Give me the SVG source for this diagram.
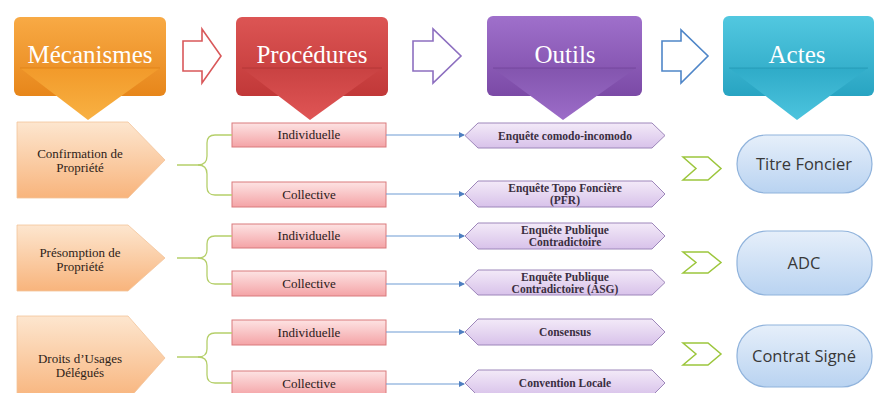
<svg xmlns="http://www.w3.org/2000/svg" width="875" height="393" viewBox="0 0 875 393">
  <defs>
    <linearGradient id="gOrange" x1="0" y1="0" x2="0" y2="1">
      <stop offset="0" stop-color="#f8aa45"/>
      <stop offset="1" stop-color="#e7861a"/>
    </linearGradient>
    <linearGradient id="gOrangeTri" x1="0" y1="0" x2="0" y2="1">
      <stop offset="0" stop-color="#f29a2a"/>
      <stop offset="1" stop-color="#f8b143"/>
    </linearGradient>
    <linearGradient id="gRed" x1="0" y1="0" x2="0" y2="1">
      <stop offset="0" stop-color="#dc5554"/>
      <stop offset="1" stop-color="#c13838"/>
    </linearGradient>
    <linearGradient id="gRedTri" x1="0" y1="0" x2="0" y2="1">
      <stop offset="0" stop-color="#c94242"/>
      <stop offset="1" stop-color="#e05555"/>
    </linearGradient>
    <linearGradient id="gPurple" x1="0" y1="0" x2="0" y2="1">
      <stop offset="0" stop-color="#9f70cb"/>
      <stop offset="1" stop-color="#7b4aa6"/>
    </linearGradient>
    <linearGradient id="gPurpleTri" x1="0" y1="0" x2="0" y2="1">
      <stop offset="0" stop-color="#8355ae"/>
      <stop offset="1" stop-color="#9c6cc8"/>
    </linearGradient>
    <linearGradient id="gCyan" x1="0" y1="0" x2="0" y2="1">
      <stop offset="0" stop-color="#52c8e0"/>
      <stop offset="1" stop-color="#28a4c2"/>
    </linearGradient>
    <linearGradient id="gCyanTri" x1="0" y1="0" x2="0" y2="1">
      <stop offset="0" stop-color="#2fabc8"/>
      <stop offset="1" stop-color="#4cc4de"/>
    </linearGradient>
    <linearGradient id="gPeach" x1="0" y1="0" x2="0" y2="1">
      <stop offset="0" stop-color="#fde6cf"/>
      <stop offset="1" stop-color="#f8b47c"/>
    </linearGradient>
    <linearGradient id="gPink" x1="0" y1="0" x2="0" y2="1">
      <stop offset="0" stop-color="#fde3e3"/>
      <stop offset="1" stop-color="#f4a3a6"/>
    </linearGradient>
    <linearGradient id="gLilac" x1="0" y1="0" x2="0" y2="1">
      <stop offset="0" stop-color="#f3eaf8"/>
      <stop offset="1" stop-color="#d8c2ea"/>
    </linearGradient>
    <linearGradient id="gSky" x1="0" y1="0" x2="0" y2="1">
      <stop offset="0" stop-color="#e6effa"/>
      <stop offset="1" stop-color="#b9d3f1"/>
    </linearGradient>
    <marker id="dot" viewBox="0 0 6 6" refX="5" refY="3" markerWidth="5" markerHeight="5" orient="auto">
      <path d="M0,0 L6,3 L0,6 Z" fill="#4f7fc0"/>
    </marker>
    <style>
      .hdr { font-family: "Liberation Serif", serif; font-size: 25px; fill: #ffffff; text-anchor: middle; }
      .band { fill: none; stroke-width: 1; stroke-opacity: 0.6; }
      .mech { fill: url(#gPeach); stroke: #f2c49a; stroke-width: 0.8; }
      .mtxt { font-family: "Liberation Serif", serif; font-size: 13px; fill: #2e2218; text-anchor: middle; }
      .proc { fill: url(#gPink); stroke: #d97a7d; stroke-width: 1; }
      .ptxt { font-family: "Liberation Serif", serif; font-size: 13px; fill: #2a1a1a; text-anchor: middle; }
      .tool { fill: url(#gLilac); stroke: #9d86ba; stroke-width: 1; }
      .ttxt { font-family: "Liberation Serif", serif; font-size: 11.5px; font-weight: bold; fill: #3a2e40; text-anchor: middle; }
      .act { fill: url(#gSky); stroke: #90b3dc; stroke-width: 1.2; }
      .atxt { font-family: "Open Sans", "Liberation Sans", sans-serif; font-size: 16.5px; fill: #383838; text-anchor: middle; }
      .brace { fill: none; stroke: #b5cf6a; stroke-width: 1.3; }
      .link { fill: none; stroke: #6f9bd3; stroke-width: 1.2; }
      .chev { fill: #ffffff; stroke: #9cc63c; stroke-width: 1.5; stroke-linejoin: miter; }
      .hollow { fill: #ffffff; stroke-width: 1.6; stroke-linejoin: miter; }
    </style>
  </defs>

  <rect width="875" height="393" fill="#ffffff"/>

  <!-- column headers -->
  <g id="hdr-mecanismes">
    <rect x="14" y="17" width="152" height="79" rx="6" fill="url(#gOrange)"/>
    <polygon points="20,68 160,68 88,120" fill="url(#gOrangeTri)"/>
    <line x1="20" y1="68" x2="160" y2="68" class="band" stroke="#d9780f"/>
    <text x="90" y="63" class="hdr">Mécanismes</text>
  </g>
  <g id="hdr-procedures">
    <rect x="236" y="17" width="152" height="79" rx="6" fill="url(#gRed)"/>
    <polygon points="242,68 382,68 310,120" fill="url(#gRedTri)"/>
    <line x1="242" y1="68" x2="382" y2="68" class="band" stroke="#a92e2e"/>
    <text x="312" y="63" class="hdr">Procédures</text>
  </g>
  <g id="hdr-outils">
    <rect x="487" y="16" width="155" height="80" rx="6" fill="url(#gPurple)"/>
    <polygon points="493,68 636,68 563,120" fill="url(#gPurpleTri)"/>
    <line x1="493" y1="68" x2="636" y2="68" class="band" stroke="#6a3e92"/>
    <text x="565" y="63" class="hdr">Outils</text>
  </g>
  <g id="hdr-actes">
    <rect x="723" y="16" width="151" height="80" rx="6" fill="url(#gCyan)"/>
    <polygon points="729,68 868,68 797,120" fill="url(#gCyanTri)"/>
    <line x1="729" y1="68" x2="868" y2="68" class="band" stroke="#1f8fac"/>
    <text x="797" y="63" class="hdr">Actes</text>
  </g>

  <!-- hollow arrows between headers -->
  <g id="flow-arrows">
    <polygon class="hollow" stroke="#d9585a" points="183,41 202,41 202,29 221,56 202,83 202,71 183,71"/>
    <polygon class="hollow" stroke="#8d6fc0" points="413,41 433,41 433,29 461,56 433,83 433,71 413,71"/>
    <polygon class="hollow" stroke="#4f86c8" points="662,41 681,41 681,30 708,56 681,83 681,71 662,71"/>
  </g>

  <!-- mechanisms -->
  <g id="mech-confirmation">
    <polygon class="mech" points="17,122 128,122 165,160 128,198 17,198"/>
    <text x="80" y="158" class="mtxt">Confirmation  de</text>
    <text x="80" y="172" class="mtxt">Propriété</text>
  </g>
  <g id="mech-presomption">
    <polygon class="mech" points="17,225 128,225 165,258 128,291 17,291"/>
    <text x="80" y="257" class="mtxt">Présomption  de</text>
    <text x="80" y="271" class="mtxt">Propriété</text>
  </g>
  <g id="mech-droits">
    <polygon class="mech" points="17,316 128,316 165,358 128,400 17,400"/>
    <text x="80" y="363" class="mtxt">Droits  d’Usages</text>
    <text x="80" y="377" class="mtxt">Délégués</text>
  </g>

  <!-- procedures -->
  <g id="proc-ind-1"><rect class="proc" x="232" y="123" width="154" height="24"/><text x="309" y="139" class="ptxt">Individuelle</text></g>
  <g id="proc-col-1"><rect class="proc" x="232" y="182" width="154" height="25"/><text x="309" y="199" class="ptxt">Collective</text></g>
  <g id="proc-ind-2"><rect class="proc" x="232" y="224" width="154" height="24"/><text x="309" y="240" class="ptxt">Individuelle</text></g>
  <g id="proc-col-2"><rect class="proc" x="232" y="271" width="154" height="25"/><text x="309" y="288" class="ptxt">Collective</text></g>
  <g id="proc-ind-3"><rect class="proc" x="232" y="320" width="154" height="25"/><text x="309" y="337" class="ptxt">Individuelle</text></g>
  <g id="proc-col-3"><rect class="proc" x="232" y="371" width="154" height="25"/><text x="309" y="388" class="ptxt">Collective</text></g>

  <!-- tools -->
  <g id="tool-comodo">
    <polygon class="tool" points="465,135.5 478,123 652,123 665,135.5 652,148 478,148"/>
    <text x="565" y="139.5" class="ttxt">Enquête comodo-incomodo</text>
  </g>
  <g id="tool-topo">
    <polygon class="tool" points="465,194 478,181 652,181 665,194 652,207 478,207"/>
    <text x="565" y="192" class="ttxt">Enquête Topo Foncière</text>
    <text x="565" y="204" class="ttxt">(PFR)</text>
  </g>
  <g id="tool-publique">
    <polygon class="tool" points="465,236 478,223 652,223 665,236 652,249 478,249"/>
    <text x="565" y="234" class="ttxt">Enquête Publique</text>
    <text x="565" y="246" class="ttxt">Contradictoire</text>
  </g>
  <g id="tool-publique-asg">
    <polygon class="tool" points="465,282.5 478,270 652,270 665,282.5 652,295 478,295"/>
    <text x="565" y="281" class="ttxt">Enquête Publique</text>
    <text x="565" y="293" class="ttxt">Contradictoire (ASG)</text>
  </g>
  <g id="tool-consensus">
    <polygon class="tool" points="465,332 478,319 652,319 665,332 652,345 478,345"/>
    <text x="565" y="336" class="ttxt">Consensus</text>
  </g>
  <g id="tool-convention">
    <polygon class="tool" points="465,383 478,370 652,370 665,383 652,396 478,396"/>
    <text x="565" y="387" class="ttxt">Convention Locale</text>
  </g>

  <!-- acts -->
  <g id="act-titre">
    <rect class="act" x="737" y="135" width="135" height="58" rx="29"/>
    <text x="804" y="170" class="atxt">Titre Foncier</text>
  </g>
  <g id="act-adc">
    <rect class="act" x="737" y="231" width="135" height="64" rx="30"/>
    <text x="804" y="269" class="atxt">ADC</text>
  </g>
  <g id="act-contrat">
    <rect class="act" x="737" y="325" width="135" height="62" rx="30"/>
    <text x="804" y="362" class="atxt">Contrat Signé</text>
  </g>

  <!-- connectors -->
  <g id="connectors">
    <path class="brace" d="M177,165 L198,165 Q207,165 207,156 L207,143 Q207,135 215,135 L232,135"/>
    <path class="brace" d="M198,165 Q207,165 207,174 L207,187 Q207,195 215,195 L232,195"/>
    <path class="brace" d="M177,258 L198,258 Q207,258 207,250 L207,244 Q207,236 215,236 L232,236"/>
    <path class="brace" d="M198,258 Q207,258 207,266 L207,276 Q207,284 215,284 L232,284"/>
    <path class="brace" d="M177,357 L198,357 Q207,357 207,349 L207,341 Q207,333 215,333 L232,333"/>
    <path class="brace" d="M198,357 Q207,357 207,365 L207,375 Q207,383 215,383 L232,383"/>

    <line class="link" x1="386" y1="135" x2="464" y2="135" marker-end="url(#dot)"/>
    <line class="link" x1="386" y1="194" x2="464" y2="194" marker-end="url(#dot)"/>
    <line class="link" x1="386" y1="236" x2="464" y2="236" marker-end="url(#dot)"/>
    <line class="link" x1="386" y1="284" x2="464" y2="284" marker-end="url(#dot)"/>
    <line class="link" x1="386" y1="332" x2="464" y2="332" marker-end="url(#dot)"/>
    <line class="link" x1="386" y1="384" x2="464" y2="384" marker-end="url(#dot)"/>

    <polygon class="chev" points="683,157 708,157 721,168.5 708,180 683,180 696,168.5"/>
    <polygon class="chev" points="683,252 708,252 721,262.5 708,273 683,273 696,262.5"/>
    <polygon class="chev" points="683,343 708,343 721,354 708,365 683,365 696,354"/>
  </g>
</svg>
